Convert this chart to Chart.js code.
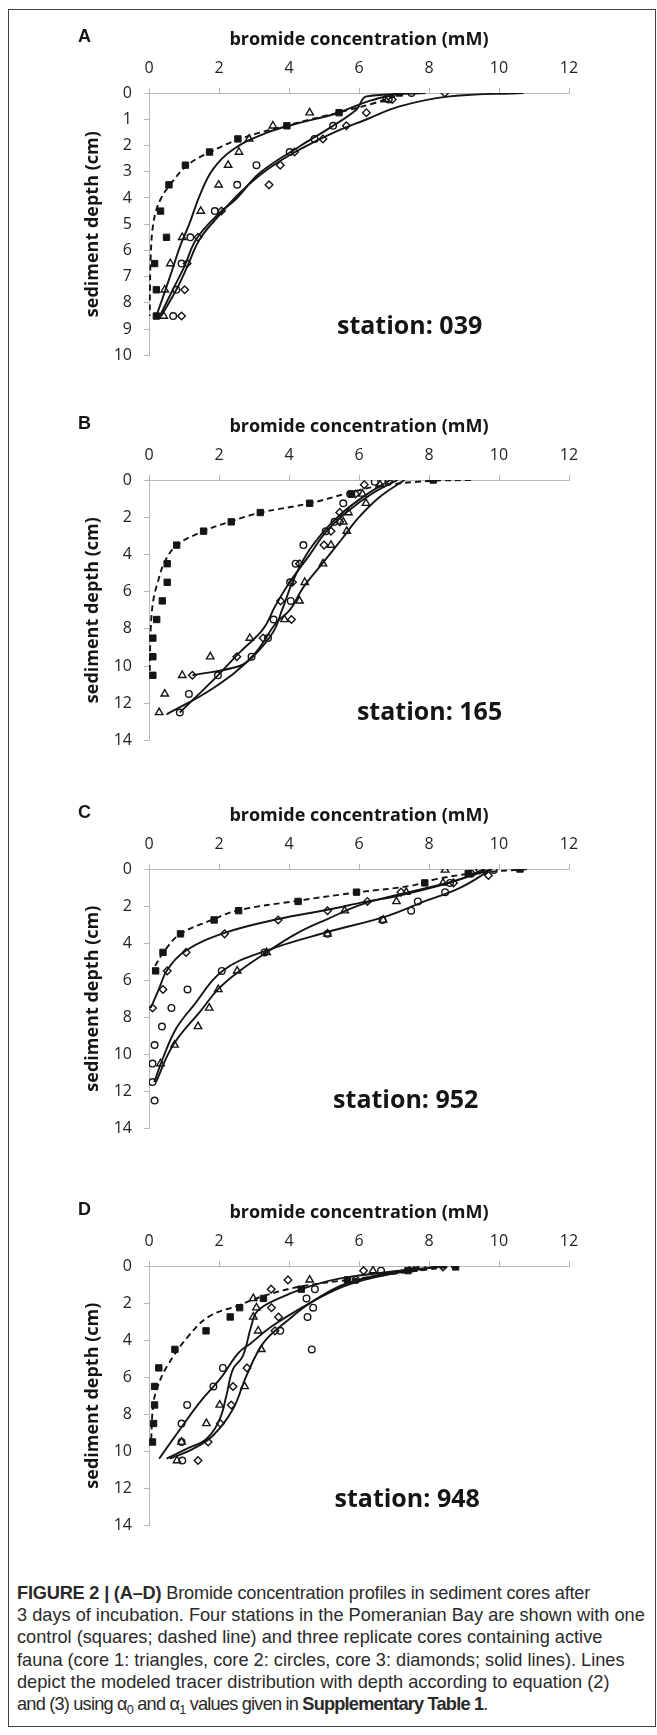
<!DOCTYPE html>
<html>
<head>
<meta charset="utf-8">
<script src="https://cdn.jsdelivr.net/npm/chart.js@4.4.1/dist/chart.umd.min.js"></script>
<style>
  html, body { margin: 0; padding: 0; background: #fff; }
  body { width: 657px; height: 1735px; position: relative; overflow: hidden; }
  #frame { position: absolute; left: 8px; top: 9px; width: 648px; height: 1718px; border: 1.5px solid #444; box-sizing: border-box; }
  canvas.panel { position: absolute; left: 0; }
  #caption { position: absolute; left: 17px; top: 1582px; font-family: 'Liberation Sans', Arial, sans-serif; font-size: 18.2px; line-height: 22.2px; color: #2a2a2a; white-space: nowrap; }
  #caption sub { font-size: 70%; line-height: 0; vertical-align: -0.3em; }
  #caption .first { letter-spacing: -0.2px; }
  #caption .last { letter-spacing: -0.8px; }
</style>
</head>
<body>
<div id="frame"></div>
<canvas id="chartA" class="panel"></canvas>
<canvas id="chartB" class="panel"></canvas>
<canvas id="chartC" class="panel"></canvas>
<canvas id="chartD" class="panel"></canvas>
<div id="caption">
<span class="first"><b>FIGURE 2 | (A–D)</b> Bromide concentration profiles in sediment cores after</span><br>
3 days of incubation. Four stations in the Pomeranian Bay are shown with one<br>
control (squares; dashed line) and three replicate cores containing active<br>
fauna (core 1: triangles, core 2: circles, core 3: diamonds; solid lines). Lines<br>
depict the modeled tracer distribution with depth according to equation (2)<br>
<span class="last">and (3) using α<sub>0</sub> and α<sub>1</sub> values given in <b>Supplementary Table 1</b>.</span>
</div>
<script>
// tick labels
const concTicks = [0, 2, 4, 6, 8, 10, 12];
const depthTicksA = [0, 1, 2, 3, 4, 5, 6, 7, 8, 9, 10];
const depthTicks = [0, 2, 4, 6, 8, 10, 12, 14];

// [bromide mM, depth cm]
// station 039
const A_control = [[7.15,0],[5.43,0.75],[3.94,1.25],[2.54,1.75],[1.73,2.25],[1.04,2.75],[0.57,3.5],[0.33,4.5],[0.5,5.5],[0.16,6.5],[0.21,7.5],[0.21,8.5]];
const A_core1 = [[6.75,0.25],[4.59,0.75],[3.54,1.25],[2.86,1.75],[2.57,2.25],[2.26,2.75],[1.99,3.5],[1.48,4.5],[0.95,5.5],[0.61,6.5],[0.45,7.5],[0.42,8.5]];
const A_core2 = [[7.5,0],[6.85,0.25],[5.26,1.25],[4.73,1.75],[4.02,2.25],[3.07,2.75],[2.52,3.5],[1.88,4.5],[1.18,5.5],[0.93,6.5],[0.78,7.5],[0.69,8.5]];
const A_core3 = [[8.45,0],[6.95,0.25],[6.21,0.75],[5.64,1.25],[4.97,1.75],[4.16,2.25],[3.75,2.75],[3.43,3.5],[2.07,4.5],[1.4,5.5],[1.09,6.5],[1.02,7.5],[0.93,8.5]];
const A_fitCtrl = [[7.3,0],[6.4,0.4],[5.4,0.75],[3.9,1.25],[2.6,1.75],[1.75,2.25],[1.1,2.75],[0.6,3.5],[0.35,4.0],[0.2,4.5],[0.1,5.2],[0.05,6.2],[0.03,7.3],[0.02,8.5]];
const A_fit1 = [[7.2,0],[6.3,0.3],[5.3,0.8],[4.3,1.14],[3.35,1.52],[2.4,2.15],[1.83,2.9],[1.45,3.9],[1.15,5.0],[0.9,5.8],[0.6,7.0],[0.21,8.5]];
const A_fit2 = [[7.9,0],[6.21,0.13],[5.93,0.63],[5.2,1.3],[4.31,2.03],[3.17,3.04],[2.48,4.05],[2.02,4.56],[1.35,5.57],[1.02,6.59],[0.69,7.47],[0.31,8.5]];
const A_fit3 = [[10.7,0],[8.59,0.13],[7.16,0.51],[6.21,1.01],[5.26,1.52],[4.31,2.15],[3.4,2.9],[2.6,3.8],[2.05,4.6],[1.45,5.57],[1.1,6.6],[0.78,7.5],[0.35,8.5]];

// station 165
const B_control = [[8.12,0],[5.79,0.75],[4.59,1.25],[3.18,1.75],[2.35,2.25],[1.56,2.75],[0.79,3.5],[0.52,4.5],[0.52,5.5],[0.38,6.5],[0.22,7.5],[0.11,8.5],[0.11,9.5],[0.11,10.5]];
const B_core1 = [[6.6,0.25],[6.1,0.75],[6.2,1.25],[5.7,1.75],[5.55,2.25],[5.65,2.75],[5.2,3.5],[4.97,4.5],[4.45,5.5],[4.3,6.5],[3.87,7.5],[2.88,8.5],[1.75,9.5],[0.95,10.5],[0.45,11.5],[0.29,12.5]];
const B_core2 = [[6.45,0.1],[5.75,0.75],[5.55,1.25],[5.3,2.25],[5.05,2.75],[4.41,3.5],[4.19,4.5],[4.03,5.5],[4.05,6.5],[3.56,7.5],[3.4,8.5],[2.93,9.5],[1.97,10.5],[1.14,11.5],[0.88,12.5]];
const B_core3 = [[6.85,0.05],[6.15,0.25],[5.9,0.75],[5.45,1.75],[5.45,2.25],[5.2,2.75],[5.0,3.5],[4.3,4.5],[4.1,5.5],[3.76,6.5],[4.07,7.5],[3.26,8.5],[2.51,9.5],[1.24,10.5]];
const B_fitCtrl = [[9.2,0],[8.0,0.05],[6.5,0.35],[5.6,0.75],[4.6,1.25],[3.2,1.75],[2.3,2.25],[1.5,2.8],[0.8,3.5],[0.45,4.4],[0.25,5.5],[0.12,6.5],[0.05,8],[0.02,10.5]];
const B_fit1 = [[7.3,0],[6.6,0.9],[6.0,2.0],[5.5,3.2],[4.95,4.5],[4.4,5.8],[4.02,7.0],[3.64,7.66],[2.97,9.45],[1.83,11.2],[0.5,12.6]];
const B_fit2 = [[7.1,0],[6.4,0.7],[5.6,1.8],[5.05,2.8],[4.6,4.0],[4.02,5.5],[3.6,6.8],[3.26,8.02],[2.59,9.27],[1.97,10.5],[0.88,12.5]];
const B_fit3 = [[6.9,0],[6.2,0.8],[5.5,1.8],[5.0,2.75],[4.5,4.0],[4.11,5.44],[3.8,7.0],[3.54,8.2],[2.97,9.5],[2.59,10.0],[1.24,10.5]];

// station 952
const C_control = [[10.6,0],[9.12,0.25],[7.88,0.75],[5.93,1.25],[4.26,1.75],[2.56,2.25],[1.86,2.75],[0.9,3.5],[0.4,4.5],[0.19,5.5]];
const C_core1 = [[8.46,0.05],[8.4,0.75],[7.35,1.25],[7.07,1.75],[5.59,2.25],[6.69,2.75],[5.1,3.5],[3.36,4.5],[2.52,5.5],[1.98,6.5],[1.72,7.5],[1.4,8.5],[0.73,9.5],[0.33,10.5]];
const C_core2 = [[9.85,0.05],[9.2,0.25],[8.6,0.75],[8.46,1.25],[7.68,1.75],[7.49,2.25],[6.67,2.75],[5.1,3.5],[3.3,4.5],[2.08,5.5],[1.1,6.5],[0.64,7.5],[0.37,8.5],[0.16,9.5],[0.1,10.5],[0.1,11.5],[0.16,12.5]];
const C_core3 = [[9.45,0.05],[9.7,0.35],[8.7,0.75],[7.2,1.25],[6.24,1.75],[5.1,2.25],[3.69,2.75],[2.16,3.5],[1.06,4.5],[0.52,5.5],[0.4,6.5],[0.1,7.5]];
const C_fitCtrl = [[10.8,0],[9.2,0.25],[8.2,0.55],[7.5,0.9],[6.0,1.25],[4.3,1.7],[2.5,2.25],[1.8,2.75],[0.9,3.5],[0.45,4.4],[0.15,5.3]];
const C_fit1 = [[9.6,0],[8.8,0.6],[7.3,1.3],[6.1,1.9],[5.1,2.7],[4.2,3.5],[3.36,4.5],[2.52,5.6],[1.97,6.5],[1.5,7.6],[0.69,9.5],[0.2,11.5]];
const C_fit2 = [[9.8,0],[8.9,1.0],[7.8,1.8],[6.7,2.6],[5.1,3.4],[3.36,4.4],[2.1,5.5],[1.26,7.4],[0.78,8.6],[0.4,10.2],[0.15,11.5]];
const C_fit3 = [[9.8,0],[9.3,0.3],[8.3,0.9],[7.0,1.5],[6.24,1.75],[5.1,2.2],[3.7,2.7],[2.16,3.45],[1.06,4.4],[0.52,5.45],[0.3,6.4],[0.05,7.5]];

// station 948
const D_control = [[8.76,0.05],[7.4,0.25],[5.67,0.75],[4.35,1.25],[3.27,1.75],[2.59,2.25],[2.32,2.75],[1.63,3.5],[0.74,4.5],[0.28,5.5],[0.16,6.5],[0.16,7.5],[0.13,8.5],[0.1,9.5]];
const D_core1 = [[7.5,0.05],[6.4,0.25],[4.59,0.75],[2.98,1.75],[3.07,2.25],[2.98,2.75],[3.12,3.5],[3.21,4.5],[2.73,6.5],[2.02,7.5],[1.64,8.5],[0.93,9.5],[0.8,10.5]];
const D_core2 = [[7.8,0.05],[6.63,0.25],[5.91,0.75],[4.74,1.25],[4.5,1.75],[4.69,2.25],[4.53,2.75],[3.75,3.5],[4.65,4.5],[2.11,5.5],[1.84,6.5],[1.09,7.5],[0.93,8.5],[0.93,9.5],[0.95,10.5]];
const D_core3 = [[8.4,0.05],[6.13,0.25],[3.97,0.75],[3.49,1.25],[3.5,2.25],[3.7,2.75],[3.6,3.5],[2.8,5.5],[2.4,6.5],[2.35,7.5],[2.04,8.5],[1.69,9.5],[1.4,10.5]];
const D_fitCtrl = [[8.8,0],[7.5,0.3],[5.9,0.7],[4.35,1.1],[3.3,1.6],[2.56,2.13],[1.72,2.72],[1.12,3.8],[0.52,5.4],[0.25,6.5],[0.12,7.5],[0.06,9.5]];
const D_fit1 = [[8.5,0],[5.67,0.6],[4.59,1.1],[3.63,1.82],[3.09,2.45],[2.92,3.25],[2.68,4.86],[2.4,5.57],[2.21,7.0],[2.02,8.26],[1.64,9.33],[1.07,9.87],[0.5,10.4]];
const D_fit2 = [[7.7,0.05],[5.67,0.93],[4.59,2.0],[3.51,3.25],[2.92,4.15],[2.55,4.7],[2.07,6.0],[1.45,7.36],[0.93,8.7],[0.29,10.4]];
const D_fit3 = [[8.3,0],[6.15,0.75],[4.77,1.82],[3.87,3.08],[3.27,4.15],[2.78,5.94],[2.4,7.72],[1.83,9.15],[1.26,9.87],[0.59,10.4]];

const panels = [
  { id: 'chartA', letter: 'A', station: '039', top: 93, h: 264, yMax: 10, yTicks: depthTicksA, labelAt: [5.37, 8.9],
    ctrl: A_control, c1: A_core1, c2: A_core2, c3: A_core3, fits: [A_fit1, A_fit2, A_fit3], fitCtrl: A_fitCtrl },
  { id: 'chartB', letter: 'B', station: '165', top: 480, h: 262, yMax: 14, yTicks: depthTicks, labelAt: [5.94, 12.5],
    ctrl: B_control, c1: B_core1, c2: B_core2, c3: B_core3, fits: [B_fit1, B_fit2, B_fit3], fitCtrl: B_fitCtrl },
  { id: 'chartC', letter: 'C', station: '952', top: 869, h: 261, yMax: 14, yTicks: depthTicks, labelAt: [5.26, 12.5],
    ctrl: C_control, c1: C_core1, c2: C_core2, c3: C_core3, fits: [C_fit1, C_fit2, C_fit3], fitCtrl: C_fitCtrl },
  { id: 'chartD', letter: 'D', station: '948', top: 1266, h: 261, yMax: 14, yTicks: depthTicks, labelAt: [5.3, 12.6],
    ctrl: D_control, c1: D_core1, c2: D_core2, c3: D_core3, fits: [D_fit1, D_fit2, D_fit3], fitCtrl: D_fitCtrl },
];

const AXIS = '#b8b8b8';
const INK = '#151515';
const TOP_BOX = 75;

Chart.defaults.font.family = "'Open Sans', sans-serif";
Chart.defaults.color = '#222';

function pts(arr) {
  return arr.map(p => ({ x: p[0], y: p[1] }));
}

function fitLine(arr, dashed) {
  return {
    data: pts(arr), showLine: true, borderColor: INK, borderWidth: 1.9,
    borderDash: dashed ? [6, 4] : [], pointRadius: 0, tension: 0.4, order: 2
  };
}

function markers(arr, style, r, filled) {
  return {
    data: pts(arr), showLine: false, pointStyle: style, pointRadius: r,
    pointBackgroundColor: filled ? INK : 'rgba(255,255,255,0)', pointBorderColor: INK,
    pointBorderWidth: filled ? 1 : 1.4, order: 1
  };
}

// panel letter + station text
const panelText = {
  id: 'panelText',
  afterDraw(chart, args, opts) {
    const { ctx, scales: { x, y }, chartArea } = chart;
    ctx.save();
    ctx.fillStyle = INK;
    ctx.textBaseline = 'middle';
    ctx.font = "bold 25px 'Open Sans'";
    ctx.fillText('station: ' + opts.station, x.getPixelForValue(opts.at[0]), y.getPixelForValue(opts.at[1]));
    ctx.font = "bold 18px 'Liberation Sans'";
    ctx.fillText(opts.letter, 78, chartArea.top - 56);
    ctx.restore();
  }
};

panels.forEach(p => {
  const cv = document.getElementById(p.id);
  cv.width = 657;
  cv.height = TOP_BOX + p.h + 20;
  cv.style.top = (p.top - TOP_BOX) + 'px';

  const datasets = [
    fitLine(p.fitCtrl, true),
    ...p.fits.map(f => fitLine(f, false)),
    markers(p.ctrl, 'rect', 4.5, true),
    markers(p.c1, 'triangle', 4.3, false),
    markers(p.c2, 'circle', 3.3, false),
    markers(p.c3, 'rectRot', 3.8, false),
  ];

  new Chart(cv, {
    type: 'scatter',
    data: { datasets },
    options: {
      responsive: false,
      animation: false,
      devicePixelRatio: 1,
      layout: { padding: { left: 0, top: 0, right: 88, bottom: 20 } },
      plugins: {
        legend: { display: false },
        tooltip: { enabled: false },
        panelText: { station: p.station, letter: p.letter, at: p.labelAt }
      },
      scales: {
        x: {
          type: 'linear', position: 'top', min: 0, max: 12,
          afterBuildTicks: s => { s.ticks = concTicks.map(v => ({ value: v })); },
          afterFit: s => { s.height = TOP_BOX; },
          ticks: { font: { size: 16 }, padding: 10, color: '#222' },
          grid: { drawOnChartArea: false, drawTicks: true, tickLength: 5, color: AXIS },
          border: { display: true, color: AXIS, width: 1 },
          title: { display: true, text: 'bromide concentration (mM)', color: INK,
                   font: { size: 18, weight: 'bold' }, padding: { top: 11, bottom: 0 } }
        },
        y: {
          type: 'linear', reverse: true, min: 0, max: p.yMax,
          afterBuildTicks: s => { s.ticks = p.yTicks.map(v => ({ value: v })); },
          afterFit: s => { s.width = 149; },
          ticks: { font: { size: 16 }, padding: 12, color: '#222' },
          grid: { drawOnChartArea: false, drawTicks: true, tickLength: 5, color: AXIS },
          border: { display: true, color: AXIS, width: 1 },
          title: { display: true, text: 'sediment depth (cm)', color: INK,
                   font: { size: 18, weight: 'bold' }, padding: { top: 82, bottom: 0 } }
        }
      }
    },
    plugins: [panelText]
  });
});
</script>
</body>
</html>
